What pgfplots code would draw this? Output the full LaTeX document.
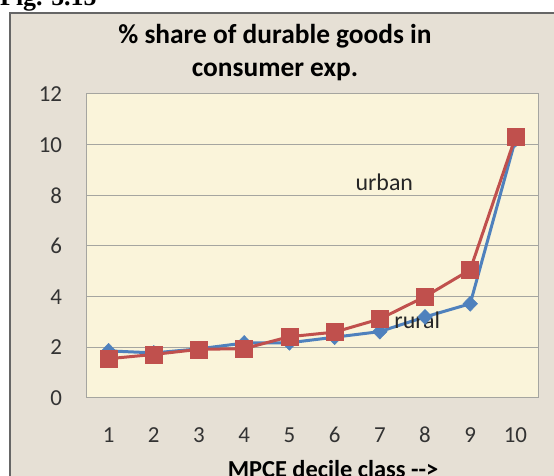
\documentclass[border=0pt]{standalone}
\usepackage{fontspec}
\setmainfont{Carlito}
\newfontfamily\figfont{Liberation Serif}
\usepackage{pgfplots}
\pgfplotsset{compat=1.18}
\definecolor{outerbg}{RGB}{230,224,213}
\definecolor{plotbg}{RGB}{250,244,218}
\definecolor{gridc}{RGB}{165,165,160}
\definecolor{rurblue}{RGB}{79,129,189}
\definecolor{urbred}{RGB}{192,80,77}
\begin{document}
\begin{tikzpicture}[x=1bp,y=1bp]
\useasboundingbox (0,0) rectangle (554,476);
\clip (0,0) rectangle (554,476);
\fill[white] (0,0) rectangle (554,476);
\fill[outerbg, draw=gray!80!black, line width=1.5bp] (10,-20) rectangle (580,463);
\node[anchor=base west, font=\figfont\bfseries\fontsize{26}{28}\selectfont, inner sep=0pt] at (0,470) {Fig. 5.15};
\node[anchor=base, font=\bfseries\fontsize{27.5}{32}\selectfont, inner sep=0pt] at (275,432) {\% share of durable goods in};
\node[anchor=base, font=\bfseries\fontsize{27.5}{32}\selectfont, inner sep=0pt] at (275,399.5) {consumer exp.};
\begin{axis}[
 at={(86bp,78bp)}, anchor=south west, scale only axis, width=452bp, height=304bp,
 xmin=0.5, xmax=10.5, ymin=0, ymax=12,
 xtick={1,...,10}, ytick={0,2,...,12},
 axis background/.style={fill=plotbg},
 axis line style={gridc, line width=1bp},
 ymajorgrids, grid style={gridc, line width=1bp},
 major tick length=0pt,
 tick label style={font=\fontsize{23}{25}\selectfont, text=black!80},
 /pgf/number format/assume math mode=true,
 xticklabel style={anchor=center, yshift=-37bp},
 yticklabel style={xshift=-20.5bp},
 clip=false,
]
\addplot[rurblue, line width=3bp, mark=diamond*, mark size=7.5bp, mark options={solid, xscale=1.3, line width=0.5bp, fill=rurblue, draw=rurblue}] coordinates {(1,1.86)(2,1.78)(3,1.94)(4,2.17)(5,2.18)(6,2.4)(7,2.62)(8,3.2)(9,3.72)(10,10.2)};
\addplot[urbred, line width=3bp, mark=square*, mark size=8.5bp, mark options={solid, line width=0.5bp, fill=urbred, draw=urbred}] coordinates {(1,1.55)(2,1.72)(3,1.92)(4,1.95)(5,2.42)(6,2.6)(7,3.12)(8,4.0)(9,5.06)(10,10.3)};
\node[font=\fontsize{24}{26}\selectfont, text=black!85] at (axis cs:7.1,8.5) {urban};
\node[font=\fontsize{24}{26}\selectfont, text=black!85] at (axis cs:7.83,3.05) {rural};
\end{axis}
\node[font=\bfseries\fontsize{24.5}{26}\selectfont, anchor=base, inner sep=0pt] at (333,-2) {MPCE decile class -\kern0pt->};
\end{tikzpicture}
\end{document}
